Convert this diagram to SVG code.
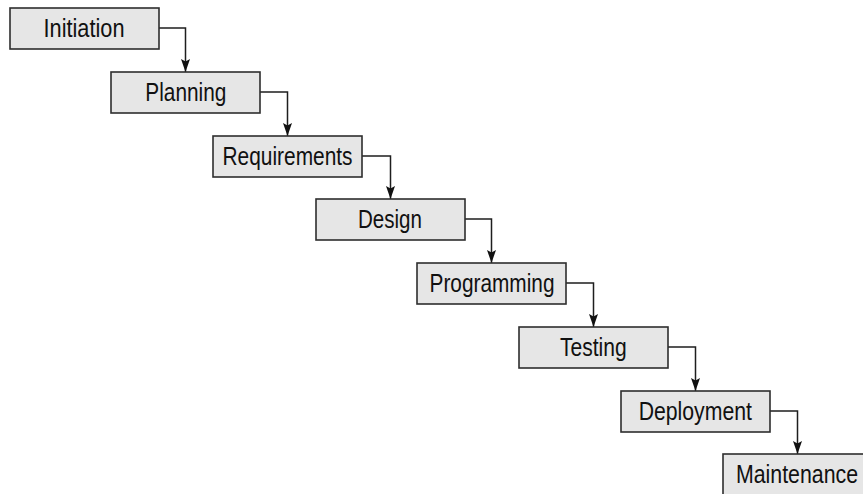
<svg xmlns="http://www.w3.org/2000/svg" width="863" height="494" viewBox="0 0 863 494">
  <style>
    .box { fill: #e6e6e6; stroke: #2e2e2e; stroke-width: 1.6; }
    .lbl { font-family: "Liberation Sans", Arial, sans-serif; font-size: 25.5px; fill: #111111; text-anchor: middle; }
    .wire { fill: none; stroke: #1e1e1e; stroke-width: 1.5; marker-end: url(#arrow); }
  </style>
  <defs>
    <marker id="arrow" markerUnits="userSpaceOnUse" markerWidth="14" markerHeight="10" refX="13" refY="4.5" orient="auto">
      <path d="M0,0 L13,4.5 L0,9 L2.5,4.5 Z" fill="#111111"/>
    </marker>
  </defs>
  <rect width="863" height="494" fill="#ffffff"/>

  <g id="connectors">
    <path class="wire" d="M159,28 H185.5 V72"/>
    <path class="wire" d="M260,92 H287.5 V136"/>
    <path class="wire" d="M362,156 H390.5 V199"/>
    <path class="wire" d="M465,219 H491.5 V263"/>
    <path class="wire" d="M566,283 H593.5 V327"/>
    <path class="wire" d="M668,347 H695.5 V391"/>
    <path class="wire" d="M770,411 H797.5 V454"/>
  </g>

  <g id="initiation">
    <rect class="box" x="10" y="8" width="149" height="41"/>
    <text class="lbl" x="84" y="36.5" textLength="81" lengthAdjust="spacingAndGlyphs">Initiation</text>
  </g>
  <g id="planning">
    <rect class="box" x="111" y="72" width="149" height="41"/>
    <text class="lbl" x="185.8" y="100.5" textLength="81" lengthAdjust="spacingAndGlyphs">Planning</text>
  </g>
  <g id="requirements">
    <rect class="box" x="213" y="136" width="149" height="41"/>
    <text class="lbl" x="287.5" y="164.5" textLength="130" lengthAdjust="spacingAndGlyphs">Requirements</text>
  </g>
  <g id="design">
    <rect class="box" x="316" y="199" width="149" height="41"/>
    <text class="lbl" x="390" y="227.5" textLength="64" lengthAdjust="spacingAndGlyphs">Design</text>
  </g>
  <g id="programming">
    <rect class="box" x="417" y="263" width="149" height="41"/>
    <text class="lbl" x="492" y="291.5" textLength="125" lengthAdjust="spacingAndGlyphs">Programming</text>
  </g>
  <g id="testing">
    <rect class="box" x="519" y="327" width="149" height="41"/>
    <text class="lbl" x="593.3" y="355.5" textLength="66.7" lengthAdjust="spacingAndGlyphs">Testing</text>
  </g>
  <g id="deployment">
    <rect class="box" x="621" y="391" width="149" height="41"/>
    <text class="lbl" x="695.3" y="419.5" textLength="113.3" lengthAdjust="spacingAndGlyphs">Deployment</text>
  </g>
  <g id="maintenance">
    <rect class="box" x="723" y="454" width="149" height="41"/>
    <text class="lbl" x="797" y="482.5" textLength="122" lengthAdjust="spacingAndGlyphs">Maintenance</text>
  </g>
</svg>
